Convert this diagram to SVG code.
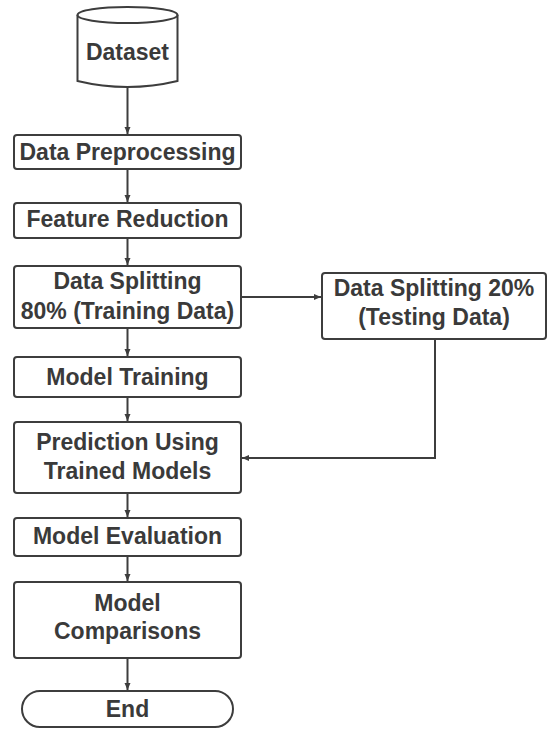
<svg xmlns="http://www.w3.org/2000/svg" width="547" height="729" viewBox="0 0 547 729">
<style>
.box{fill:#ffffff;stroke:#3d3d3d;stroke-width:2}
.t{font-family:"Liberation Sans",Arial,sans-serif;font-weight:bold;font-size:23px;fill:#3a3a3a;text-anchor:middle}
.c{fill:none;stroke:#3d3d3d;stroke-width:2}
</style>
<defs>
<marker id="ah" markerWidth="8" markerHeight="8" refX="7" refY="4" orient="auto" markerUnits="userSpaceOnUse">
<path d="M0,1 L7,4 L0,7 Z" fill="#3d3d3d"/>
</marker>
</defs>
<rect width="547" height="729" fill="#ffffff"/>
<g id="connectors">
<line class="c" x1="127.5" y1="87" x2="127.5" y2="134" marker-end="url(#ah)"/>
<line class="c" x1="127.5" y1="169" x2="127.5" y2="202" marker-end="url(#ah)"/>
<line class="c" x1="127.5" y1="238" x2="127.5" y2="265" marker-end="url(#ah)"/>
<line class="c" x1="241" y1="297" x2="321" y2="297" marker-end="url(#ah)"/>
<line class="c" x1="127.5" y1="328" x2="127.5" y2="356" marker-end="url(#ah)"/>
<line class="c" x1="127.5" y1="397" x2="127.5" y2="421" marker-end="url(#ah)"/>
<path class="c" d="M435,339 L435,458 L242,458" marker-end="url(#ah)"/>
<line class="c" x1="127.5" y1="493" x2="127.5" y2="517" marker-end="url(#ah)"/>
<line class="c" x1="127.5" y1="556" x2="127.5" y2="581" marker-end="url(#ah)"/>
<line class="c" x1="127.5" y1="658" x2="127.5" y2="690" marker-end="url(#ah)"/>
</g>
<g id="dataset">
<path class="box" d="M77.5,15 L77.5,81 Q127.5,93 177.5,81 L177.5,15"/>
<ellipse class="box" cx="127.5" cy="15" rx="50" ry="8"/>
<text class="t" x="127.5" y="60">Dataset</text>
</g>
<g id="preprocessing">
<rect class="box" x="14" y="135" width="227" height="34" rx="3"/>
<text class="t" x="127.5" y="160">Data Preprocessing</text>
</g>
<g id="feature-reduction">
<rect class="box" x="14" y="203" width="227" height="35" rx="3"/>
<text class="t" x="127.5" y="227">Feature Reduction</text>
</g>
<g id="split80">
<rect class="box" x="14" y="266" width="227" height="62" rx="3"/>
<text class="t" x="127.5" y="289">Data Splitting</text>
<text class="t" x="127.5" y="319">80% (Training Data)</text>
</g>
<g id="split20">
<rect class="box" x="322" y="273" width="224" height="66" rx="3"/>
<text class="t" x="434" y="296">Data Splitting 20%</text>
<text class="t" x="434" y="325">(Testing Data)</text>
</g>
<g id="model-training">
<rect class="box" x="14" y="357" width="227" height="40" rx="3"/>
<text class="t" x="127.5" y="385">Model Training</text>
</g>
<g id="prediction">
<rect class="box" x="14" y="422" width="227" height="71" rx="3"/>
<text class="t" x="127.5" y="450">Prediction Using</text>
<text class="t" x="127.5" y="479">Trained Models</text>
</g>
<g id="evaluation">
<rect class="box" x="14" y="518" width="227" height="38" rx="3"/>
<text class="t" x="127.5" y="544">Model Evaluation</text>
</g>
<g id="comparisons">
<rect class="box" x="14" y="582" width="227" height="76" rx="3"/>
<text class="t" x="127.5" y="611">Model</text>
<text class="t" x="127.5" y="639">Comparisons</text>
</g>
<g id="end">
<rect class="box" x="22" y="691" width="211" height="36" rx="18"/>
<text class="t" x="127.5" y="717">End</text>
</g>
</svg>
